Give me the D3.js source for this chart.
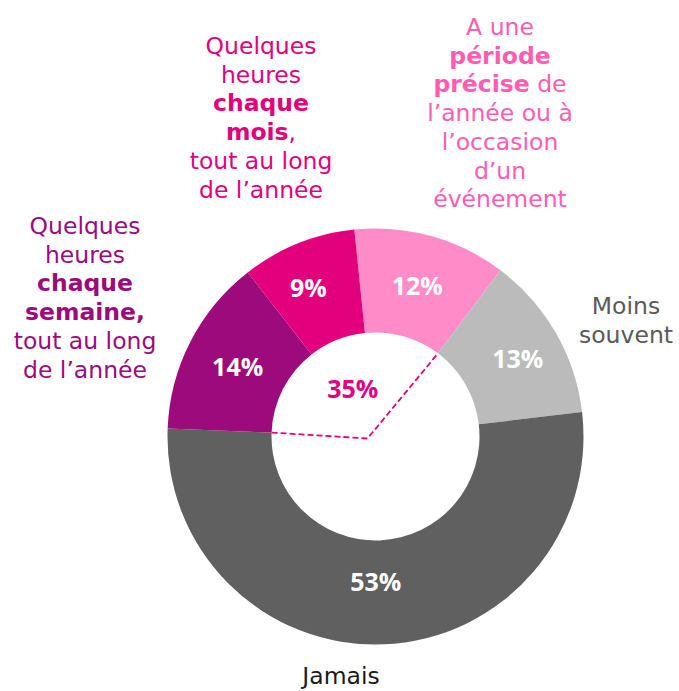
<!DOCTYPE html>
<html>
<head>
<meta charset="utf-8">
<script src="https://cdn.jsdelivr.net/npm/d3@7"></script>
<style>
  body { margin: 0; background: #fff; }
  text { font-family: "DejaVu Sans", Verdana, sans-serif; }
</style>
</head>
<body>
<div id="chart"></div>
<script>
// donnees (sens horaire, depuis le haut)
var categories = ["periode", "moins", "jamais", "semaine", "mois"];
var values = [12, 13, 53, 14, 9];
var valueLabels = ["12%", "13%", "53%", "14%", "9%"];
var totalLabel = "35%";
var labelLines = [
    ["A une", "**période**", "**précise** de", "l’année ou à", "l’occasion", "d’un", "événement"],
    ["Moins", "souvent"],
    ["Jamais"],
    ["Quelques", "heures", "**chaque**", "**semaine,**", "tout au long", "de l’année"],
    ["Quelques", "heures", "**chaque**", "**mois**,", "tout au long", "de l’année"]
];

var W = 679, H = 691;
var colors = {
    periode: "#ff8bc8",
    moins: "#bbbbbb",
    jamais: "#606060",
    semaine: "#9c0a7c",
    mois: "#e3007d"
};
var textColors = {
    periode: "#ff5cb2",
    moins: "#5a5a5a",
    jamais: "#1a1a1a",
    semaine: "#9c0a7c",
    mois: "#e3007d"
};
// ancre de la premiere ligne de chaque etiquette
var labelPos = {
    periode: [500, 35],
    moins: [626, 314],
    jamais: [341, 684],
    semaine: [85, 234],
    mois: [261, 54]
};
// petits decalages des pourcentages par rapport au centroide
var pctNudge = {
    periode: [0, 0],
    moins: [7, 0],
    jamais: [-6, -10],
    semaine: [1, 2],
    mois: [-9, -4]
};
var cx = 375.5, cy = 436.5;
var rOut = 208, rIn = 104;
var lineH = 28.7;
var a0 = -5.84 * Math.PI / 180;

var svg = d3.select('#chart')
    .append('svg')
    .attr('width', W)
    .attr('height', H);

var pie = d3.pie()
    .sort(null)
    .startAngle(a0)
    .endAngle(a0 + 2 * Math.PI)
    .value(function (d) { return d.v; });

var arcs = pie(categories.map(function (c, i) { return {c: c, v: values[i], l: valueLabels[i]}; }));

var arc = d3.arc().innerRadius(rIn).outerRadius(rOut);

var g = svg.append('g').attr('transform', 'translate(' + cx + ',' + cy + ')');

g.selectAll('path.slice')
    .data(arcs)
    .enter()
    .append('path')
    .attr('class', 'slice')
    .attr('d', arc)
    .attr('fill', function (d) { return colors[d.data.c]; });

g.selectAll('text.pct')
    .data(arcs)
    .enter()
    .append('text')
    .attr('class', 'pct')
    .attr('x', function (d) { return arc.centroid(d)[0] + pctNudge[d.data.c][0]; })
    .attr('y', function (d) { return arc.centroid(d)[1] + 9 + pctNudge[d.data.c][1]; })
    .attr('text-anchor', 'middle')
    .style('font-family', '"Open Sans", sans-serif')
    .style('font-weight', 'bold')
    .style('font-size', '25px')
    .attr('fill', '#fff')
    .text(function (d) { return d.data.l; });

// ligne pointillee : 35% = semaine + mois + periode
var aStart = arcs[3].startAngle;           // debut "chaque semaine"
var aEnd = arcs[0].endAngle + 2 * Math.PI; // fin "periode precise"
function onInner(a) { return [rIn * Math.sin(a), -rIn * Math.cos(a)]; }
var vtx = [-8, 2];
g.append('path')
    .attr('d', d3.line()([onInner(aStart), vtx, onInner(aEnd)]))
    .attr('fill', 'none')
    .attr('stroke', colors.mois)
    .attr('stroke-width', 1.8)
    .attr('stroke-dasharray', '6,3');

var aMid = (aStart + aEnd) / 2;
g.append('text')
    .attr('x', 53 * Math.sin(aMid))
    .attr('y', -53 * Math.cos(aMid) + 9)
    .attr('text-anchor', 'middle')
    .style('font-family', '"Open Sans", sans-serif')
    .style('font-weight', 'bold')
    .style('font-size', '25px')
    .attr('fill', colors.mois)
    .text(totalLabel);

// etiquettes des categories
categories.forEach(function (c, i) {
    var t = svg.append('text')
        .attr('text-anchor', 'middle')
        .attr('fill', textColors[c])
        .style('font-size', '23.5px');
    labelLines[i].forEach(function (line, k) {
        var parts = line.split('**');
        var firstSpan = true;
        parts.forEach(function (p, j) {
            if (p === '') return;
            var ts = t.append('tspan').text(p);
            if (j % 2 === 1) ts.style('font-weight', 'bold');
            if (firstSpan) {
                ts.attr('x', labelPos[c][0]).attr('y', labelPos[c][1] + k * lineH);
                firstSpan = false;
            }
        });
    });
});
</script>
</body>
</html>
